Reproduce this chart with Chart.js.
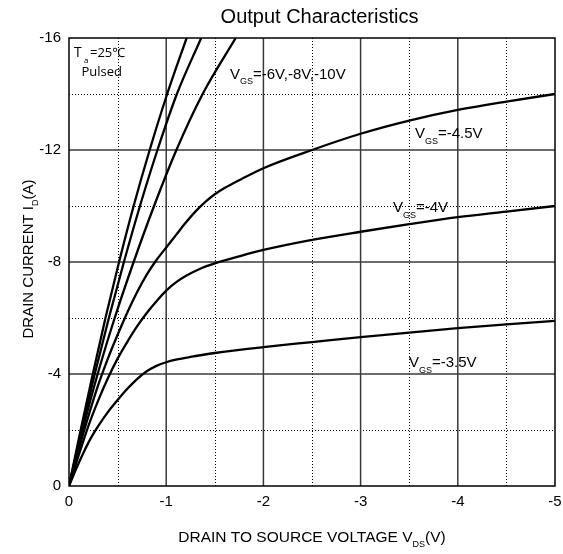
<!DOCTYPE html>
<html>
<head>
<meta charset="utf-8">
<script src="https://cdn.jsdelivr.net/npm/chart.js@4.4.1/dist/chart.umd.min.js"></script>
<style>
  html, body { margin: 0; padding: 0; background: #fff; }
  #wrap { width: 563px; height: 554px; position: relative; }
</style>
</head>
<body>
<div id="wrap"><canvas id="c" width="563" height="554"></canvas></div>
<script>
// ---- Data (VDS in volts, ID in amperes) ----
const vds35 = [0, -0.05, -0.1, -0.15, -0.2, -0.25, -0.3, -0.4, -0.5, -0.6, -0.7, -0.8, -0.9, -1.0, -1.1, -1.25, -1.5, -2, -2.5, -3, -3.5, -4, -4.5, -5];
const id35  = [0, -0.42, -0.82, -1.2, -1.55, -1.86, -2.14, -2.64, -3.07, -3.47, -3.82, -4.1, -4.29, -4.42, -4.51, -4.61, -4.75, -4.96, -5.14, -5.32, -5.48, -5.64, -5.77, -5.9];

const vds4 = [0, -0.1, -0.2, -0.3, -0.4, -0.5, -0.6, -0.7, -0.8, -0.9, -1.0, -1.1, -1.2, -1.35, -1.5, -1.75, -2, -2.5, -3, -3.5, -4, -4.5, -5];
const id4  = [0, -1.1, -2.15, -3.05, -3.85, -4.55, -5.15, -5.7, -6.18, -6.6, -6.98, -7.27, -7.5, -7.76, -7.95, -8.2, -8.43, -8.79, -9.08, -9.35, -9.6, -9.8, -10.0];

const vds45 = [0, -0.1, -0.2, -0.3, -0.4, -0.5, -0.6, -0.7, -0.8, -0.9, -1.0, -1.1, -1.2, -1.3, -1.4, -1.5, -1.6, -1.75, -2, -2.5, -3, -3.5, -4, -4.5, -5];
const id45  = [0, -1.3, -2.5, -3.6, -4.55, -5.4, -6.2, -6.92, -7.55, -8.07, -8.52, -8.96, -9.4, -9.8, -10.14, -10.42, -10.64, -10.92, -11.35, -12.0, -12.58, -13.05, -13.43, -13.73, -14.0];

const vds6  = [0, -0.14, -0.295, -0.47, -0.665, -0.875, -1.105, -1.375, -1.715];
const vds8  = [0, -0.13, -0.265, -0.41, -0.565, -0.73, -0.91, -1.11, -1.36];
const vds10 = [0, -0.12, -0.245, -0.375, -0.515, -0.665, -0.83, -1.01, -1.21];
const idSteep = [0, -2, -4, -6, -8, -10, -12, -14, -16];

const seriesNames = ['VGS=-3.5V', 'VGS=-4V', 'VGS=-4.5V', 'VGS=-6V', 'VGS=-8V', 'VGS=-10V'];

// axis ticks / grid
const xMajor = [-1, -2, -3, -4];
const xMinor = [-0.5, -1.5, -2.5, -3.5, -4.5];
const yMajor = [-4, -8, -12];
const yMinor = [-2, -6, -10, -14];

const FONT = '"Liberation Sans", Arial, Helvetica, sans-serif';

function pts(xs, ys) { return xs.map((v, i) => ({ x: v, y: ys[i] })); }

const pairs = [[vds35, id35], [vds4, id4], [vds45, id45], [vds6, idSteep], [vds8, idSteep], [vds10, idSteep]];
const datasets = pairs.map((p, i) => ({
  label: seriesNames[i],
  data: pts(p[0], p[1]),
  borderColor: '#000',
  borderWidth: 2.3,
  pointRadius: 0,
  fill: false,
  cubicInterpolationMode: 'monotone'
}));

function subText(ctx, x, y, main, sub, rest, mainSize, subSize, drop) {
  ctx.font = mainSize + 'px ' + FONT;
  ctx.fillText(main, x, y);
  x += ctx.measureText(main).width;
  ctx.font = subSize + 'px ' + FONT;
  ctx.fillText(sub, x, y + drop);
  x += ctx.measureText(sub).width;
  ctx.font = mainSize + 'px ' + FONT;
  ctx.fillText(rest, x, y);
}
function subWidth(ctx, main, sub, rest, mainSize, subSize) {
  ctx.font = mainSize + 'px ' + FONT;
  let w = ctx.measureText(main).width + ctx.measureText(rest).width;
  ctx.font = subSize + 'px ' + FONT;
  return w + ctx.measureText(sub).width;
}

const gridPlugin = {
  id: 'customGrid',
  beforeDatasetsDraw(chart) {
    const { ctx, chartArea: a, scales: { x, y } } = chart;
    ctx.save();
    ctx.strokeStyle = '#000';
    ctx.lineWidth = 1;
    ctx.setLineDash([1, 2]);
    xMinor.forEach(v => {
      const p = Math.round(x.getPixelForValue(v)) + 0.5;
      ctx.beginPath(); ctx.moveTo(p, a.top); ctx.lineTo(p, a.bottom); ctx.stroke();
    });
    yMinor.forEach(v => {
      const p = Math.round(y.getPixelForValue(v)) + 0.5;
      ctx.beginPath(); ctx.moveTo(a.left, p); ctx.lineTo(a.right, p); ctx.stroke();
    });
    ctx.setLineDash([]);
    ctx.strokeStyle = '#3a3a3a';
    ctx.lineWidth = 1.5;
    xMajor.forEach(v => {
      const p = x.getPixelForValue(v);
      ctx.beginPath(); ctx.moveTo(p, a.top); ctx.lineTo(p, a.bottom); ctx.stroke();
    });
    yMajor.forEach(v => {
      const p = y.getPixelForValue(v);
      ctx.beginPath(); ctx.moveTo(a.left, p); ctx.lineTo(a.right, p); ctx.stroke();
    });
    ctx.restore();
  },
  afterDatasetsDraw(chart) {
    const { ctx, chartArea: a } = chart;
    ctx.save();
    ctx.strokeStyle = '#000';
    ctx.lineWidth = 1.5;
    ctx.strokeRect(a.left, a.top, a.right - a.left, a.bottom - a.top);
    ctx.restore();
  },
  afterDraw(chart) {
    const { ctx, chartArea: a } = chart;
    ctx.save();
    ctx.fillStyle = '#000';
    ctx.textBaseline = 'alphabetic';
    ctx.textAlign = 'left';
    const cx = (a.left + a.right) / 2;

    // Title
    ctx.font = '20px ' + FONT;
    ctx.textAlign = 'center';
    ctx.fillText('Output Characteristics', 319.5, 22.5);
    ctx.textAlign = 'left';

    // Curve labels
    subText(ctx, 230, 78.5, 'V', 'GS', '=-6V,-8V,-10V', 15, 9, 5.5);
    subText(ctx, 415, 137.5, 'V', 'GS', '=-4.5V', 15, 9, 6);
    subText(ctx, 393, 211.5, 'V', 'GS', '=-4V', 15, 9, 6);
    subText(ctx, 409, 366.5, 'V', 'GS', '=-3.5V', 15, 9, 6);

    // Conditions
    const F2 = '"Open Sans", "Noto Sans", sans-serif';
    ctx.font = '14px ' + F2;
    ctx.fillText('T', 74, 56.7);
    ctx.font = '8px ' + F2;
    ctx.fillText('a', 84, 63);
    ctx.font = '13px ' + F2;
    ctx.fillText('=25\u2103', 90, 56.7);
    ctx.fillText('Pulsed', 81.5, 75.7);

    // X axis title
    const w = subWidth(ctx, 'DRAIN TO SOURCE VOLTAGE V', 'DS', '(V)', 15.5, 9);
    subText(ctx, cx - w / 2, 542, 'DRAIN TO SOURCE VOLTAGE V', 'DS', '(V)', 15.5, 9, 5);

    // Y axis title
    ctx.translate(33, (a.top + a.bottom) / 2 - 3);
    ctx.rotate(-Math.PI / 2);
    const wy = subWidth(ctx, 'DRAIN CURRENT I', 'D', '(A)', 15, 9);
    subText(ctx, -wy / 2, 0, 'DRAIN CURRENT I', 'D', '(A)', 15, 9, 5);
    ctx.restore();
  }
};

new Chart(document.getElementById('c'), {
  type: 'line',
  data: { datasets },
  options: {
    responsive: false,
    animation: false,
    devicePixelRatio: 1,
    layout: { padding: { top: 38, right: 8, left: 0, bottom: 0 } },
    plugins: { legend: { display: false }, title: { display: false }, tooltip: { enabled: false } },
    scales: {
      x: {
        type: 'linear',
        min: -5, max: 0,
        reverse: true,
        grid: { display: false, drawTicks: false },
        border: { display: false },
        ticks: { stepSize: 1, color: '#000', font: { family: FONT, size: 15 }, padding: 7, maxRotation: 0 },
        afterFit(s) { s.height = 68; s.paddingRight = 0; s.paddingLeft = 0; }
      },
      y: {
        type: 'linear',
        min: -16, max: 0,
        reverse: true,
        grid: { display: false, drawTicks: false },
        border: { display: false },
        ticks: { stepSize: 4, color: '#000', font: { family: FONT, size: 15 }, padding: 8 },
        afterFit(s) { s.width = 69; s.paddingTop = 0; s.paddingBottom = 0; }
      }
    }
  },
  plugins: [gridPlugin]
});
</script>
</body>
</html>
